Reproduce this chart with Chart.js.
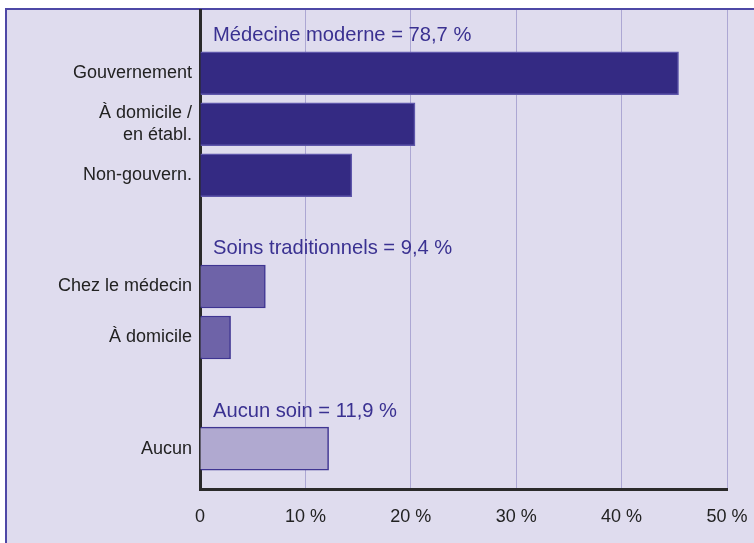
<!DOCTYPE html>
<html>
<head>
<meta charset="utf-8">
<script src="https://cdn.jsdelivr.net/npm/chart.js@4/dist/chart.umd.min.js"></script>
<style>
  html, body { margin: 0; padding: 0; background: #fff; overflow: hidden; }
  #frame {
    position: absolute; left: 5px; top: 8px; width: 780px; height: 560px;
    border: 2px solid #4e48a6; background: #dfdcee;
  }
  #wrap { position: absolute; left: 0; top: 0; width: 754px; height: 543px; }
</style>
</head>
<body>
<div id="frame"></div>
<div id="wrap"><canvas id="chart" width="754" height="543"></canvas></div>
<script>
// group titles, bar labels and values (% of sick children)
var groupTitles = ['Médecine moderne = 78,7 %', 'Soins traditionnels = 9,4 %', 'Aucun soin = 11,9 %'];
var groupLabels = [
    ['Gouvernement', ['À domicile /', 'en établ.'], 'Non-gouvern.'],
    ['Chez le médecin', 'À domicile'],
    ['Aucun']
];
var groupValues = [
    [45.4, 20.4, 14.4],
    [6.2, 2.9],
    [12.2]
];
var xTicks = [0, 10, 20, 30, 40, 50];

var groupFill = ['#342a83', '#6e63a8', '#b0a9d0'];
var groupBorder = ['#5e56aa', '#3f3592', '#3f3592'];
var FONT = "'Liberation Sans', Arial, sans-serif";

// row positions: one unit per bar, extra room before each group for its title
var FIRST_ROW = 1.24, GROUP_GAP = 2.18, Y_MAX = 9.39, TITLE_OFFSET = 0.63;
var points = [], labels = [], fills = [], borders = [], titleRows = [];
var row = FIRST_ROW;
groupValues.forEach(function(vals, g) {
    if (g > 0) row += GROUP_GAP - 1;
    titleRows.push(row - TITLE_OFFSET);
    vals.forEach(function(v, i) {
        points.push({ x: v, y: row });
        labels.push(groupLabels[g][i]);
        fills.push(groupFill[g]);
        borders.push(groupBorder[g]);
        row += 1;
    });
});
var rowValues = points.map(function(p) { return p.y; });

var groupTitlePlugin = {
    id: 'groupTitles',
    afterDatasetsDraw: function(chart) {
        var ctx = chart.ctx;
        groupTitles.forEach(function(t, g) {
            ctx.save();
            ctx.translate(chart.chartArea.left + 13, chart.scales.y.getPixelForValue(titleRows[g]));
            ctx.scale(0.96, 1);
            ctx.font = '21px ' + FONT;
            ctx.fillStyle = '#3a3191';
            ctx.textBaseline = 'alphabetic';
            ctx.textAlign = 'left';
            ctx.fillText(t, 0, 0);
            ctx.restore();
        });
    }
};

new Chart(document.getElementById('chart'), {
    type: 'bar',
    data: {
        datasets: [{
            data: points,
            backgroundColor: fills,
            borderColor: borders,
            borderWidth: 1.5,
            barThickness: 43
        }]
    },
    options: {
        indexAxis: 'y',
        responsive: false,
        animation: false,
        layout: { padding: { top: 10, right: 27, left: 0, bottom: 0 } },
        plugins: { legend: { display: false }, tooltip: { enabled: false } },
        scales: {
            x: {
                min: 0, max: 50,
                afterBuildTicks: function(scale) {
                    scale.ticks = xTicks.map(function(v) { return { value: v }; });
                },
                afterFit: function(scale) {
                    scale.height = 54;
                    scale.paddingLeft = 0;
                    scale.paddingRight = 0;
                },
                grid: { color: '#aca7d3', lineWidth: 1, drawTicks: false },
                border: { color: '#2a2a2a', width: 3 },
                ticks: {
                    padding: 17,
                    color: '#222',
                    font: { family: FONT, size: 18 },
                    callback: function(v) { return v === 0 ? '0' : v + ' %'; }
                }
            },
            y: {
                type: 'linear',
                offset: false,
                min: 0, max: Y_MAX,
                reverse: true,
                afterBuildTicks: function(scale) {
                    scale.ticks = rowValues.map(function(v) { return { value: v }; });
                },
                afterFit: function(scale) {
                    scale.width = 200;
                    scale.paddingTop = 0;
                    scale.paddingBottom = 0;
                },
                grid: { display: false, drawTicks: false },
                border: { color: '#2a2a2a', width: 3 },
                ticks: {
                    padding: 8,
                    color: '#222',
                    font: { family: FONT, size: 18 },
                    callback: function(v, i) { return labels[i]; }
                }
            }
        }
    },
    plugins: [groupTitlePlugin]
});
</script>
</body>
</html>
